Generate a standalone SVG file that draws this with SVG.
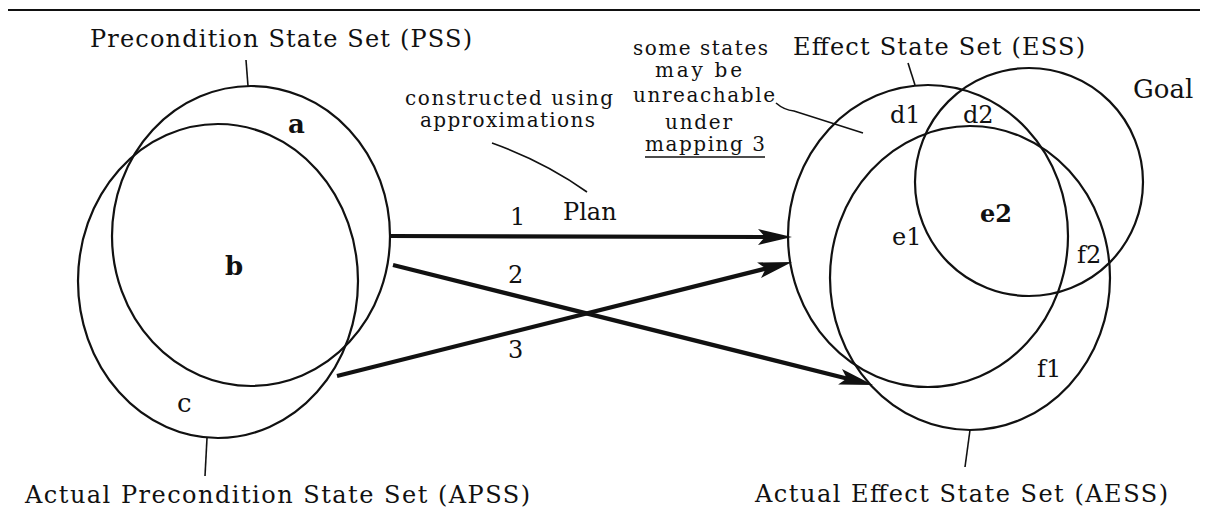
<svg xmlns="http://www.w3.org/2000/svg" width="1207" height="514" viewBox="0 0 1207 514">
<style>
.set{fill:none;stroke:#111;stroke-width:2.2}
.ptr{fill:none;stroke:#111;stroke-width:1.6}
.arr{fill:none;stroke:#111;stroke-width:4.2;stroke-linecap:butt}
text{font-family:"DejaVu Serif","Liberation Serif",serif;fill:#111}
.title{font-size:24px}
.note{font-size:20px}
.lbl{font-size:24px}
.big{font-size:26px}
.bold{font-weight:bold}
</style>
<defs>
<marker id="ah" markerUnits="userSpaceOnUse" markerWidth="36" markerHeight="18" refX="12" refY="8" orient="auto">
<path d="M0,0 L34,8 L0,16 L7,8 Z" fill="#111"/>
</marker>
</defs>
<rect width="1207" height="514" fill="#fff"/>
<line x1="8" y1="10" x2="1200" y2="10" stroke="#111" stroke-width="2"/>

<g id="pss">
<ellipse class="set" cx="251" cy="236" rx="139" ry="150"/>
<line class="ptr" x1="248" y1="86" x2="246" y2="60"/>
<text class="title" x="90" y="47" textLength="382" lengthAdjust="spacing">Precondition State Set (PSS)</text>
<text class="big bold" x="288" y="133">a</text>
</g>
<g id="apss">
<ellipse class="set" cx="218" cy="281" rx="140" ry="157"/>
<line class="ptr" x1="207" y1="438" x2="205" y2="476"/>
<text class="title" x="25" y="503" textLength="505" lengthAdjust="spacing">Actual Precondition State Set (APSS)</text>
<text class="big bold" x="225" y="275">b</text>
<text class="big" x="177" y="412">c</text>
</g>
<g id="ess">
<ellipse class="set" cx="928" cy="236" rx="140" ry="151"/>
<line class="ptr" x1="908" y1="63" x2="915" y2="85"/>
<text class="title" x="793" y="55" textLength="292" lengthAdjust="spacing">Effect State Set (ESS)</text>
<text class="lbl" x="890" y="123">d1</text>
<text class="lbl" x="963" y="123">d2</text>
<text class="lbl" x="892" y="245">e1</text>
</g>
<g id="aess">
<ellipse class="set" cx="970" cy="278" rx="140" ry="152"/>
<line class="ptr" x1="970" y1="430" x2="965" y2="467"/>
<text class="title" x="755" y="502" textLength="413" lengthAdjust="spacing">Actual Effect State Set (AESS)</text>
<text class="lbl" x="1037" y="377">f1</text>
<text class="lbl" x="1077" y="263">f2</text>
</g>
<g id="goal">
<ellipse class="set" cx="1029" cy="182" rx="114" ry="114"/>
<text class="big" x="1133" y="98">Goal</text>
<text class="lbl bold" x="980" y="222">e2</text>
</g>
<g id="plan-note">
<text class="note" x="405" y="105" textLength="208" lengthAdjust="spacing">constructed using</text>
<text class="note" x="420" y="127" textLength="175" lengthAdjust="spacing">approximations</text>
<path class="ptr" d="M492,143 Q545,162 587,192"/>
<text class="lbl" x="563" y="220" font-size="25">Plan</text>
</g>
<g id="unreachable-note">
<text class="note" x="633" y="55" textLength="135" lengthAdjust="spacing">some states</text>
<text class="note" x="655" y="77" textLength="87" lengthAdjust="spacing">may be</text>
<text class="note" x="633" y="102" textLength="142" lengthAdjust="spacing">unreachable</text>
<text class="note" x="665" y="129" textLength="67" lengthAdjust="spacing">under</text>
<text class="note" x="645" y="151" textLength="120" lengthAdjust="spacing">mapping 3</text>
<line x1="645" y1="157" x2="765" y2="157" stroke="#111" stroke-width="1.6"/>
<path class="ptr" d="M776,103 Q784,110 794,111 L863,133"/>
</g>
<g id="connectors">
<line class="arr" x1="390" y1="236" x2="770" y2="237" marker-end="url(#ah)"/>
<line class="arr" x1="393" y1="265" x2="851.7" y2="379.7" marker-end="url(#ah)"/>
<line class="arr" x1="337" y1="376" x2="770.7" y2="267.3" marker-end="url(#ah)"/>
<text class="lbl" x="510" y="225">1</text>
<text class="lbl" x="508" y="283">2</text>
<text class="lbl" x="508" y="358">3</text>
</g>
</svg>
